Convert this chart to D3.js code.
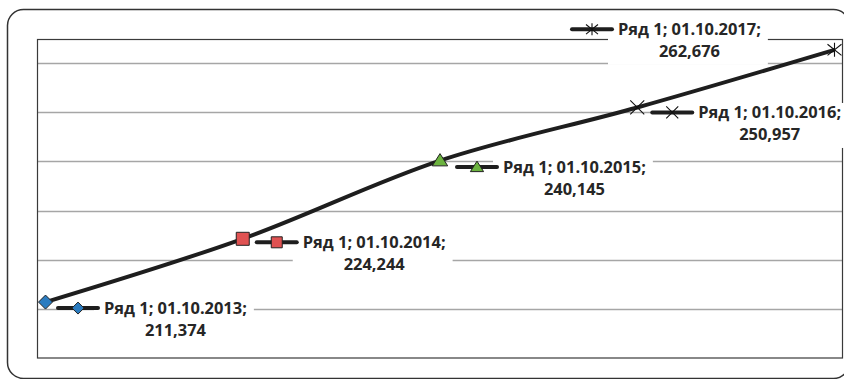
<!DOCTYPE html>
<html>
<head>
<meta charset="utf-8">
<script src="https://cdn.jsdelivr.net/npm/d3@7/dist/d3.min.js"></script>
<style>
  html, body { margin: 0; padding: 0; background: #fff; }
  svg { display: block; }
  .lbl { font-family: "Open Sans", Lato, sans-serif; font-weight: bold; fill: #262626; }
</style>
</head>
<body>
<svg id="chart" width="844" height="379"></svg>
<script>
// Series data
const seriesName = "Ряд 1";
const dates = ["01.10.2013", "01.10.2014", "01.10.2015", "01.10.2016", "01.10.2017"];
const values = [211.374, 224.244, 240.145, 250.957, 262.676];
const markerKinds = ["diamond", "square", "triangle", "x", "star"];
const markerFills = ["#2b7cc0", "#e05252", "#6cb33f", "none", "none"];
const gridValues = [210, 220, 230, 240, 250, 260];

// Layout
const W = 844, H = 379;
const plot = { left: 37.5, top: 39.5, right: 842.5, bottom: 358 };
const ink = "#1e1e1e";
const labelLineWidth = 143;   // width of the first label line

// Where each data label sits relative to its point: text start and first baseline
const labelPlacement = [
  { dx: 58.5, dy: 11.5 },
  { dx: 60, dy: 9 },
  { dx: 63, dy: 12 },
  { dx: 61, dy: 10.5 },
  { dx: -216.5, dy: -15 }
];

const svg = d3.select("#chart");

const x = d3.scalePoint().domain(dates).range([45.5, 834.5]);
const y = d3.scaleLinear().domain([200, 260]).range([plot.bottom, 63]);

// Pick a label font size that gives the wanted line width
const probe = svg.append("text").attr("class", "lbl").style("font-size", "15px")
  .text(`${seriesName}; ${dates[0]};`);
const fontSize = 15 * labelLineWidth / probe.node().getComputedTextLength();
probe.remove();

// Outer chart frame
svg.append("rect")
  .attr("x", 7.5).attr("y", 9.5)
  .attr("width", 842).attr("height", 369)
  .attr("rx", 16).attr("ry", 16)
  .attr("fill", "#fff").attr("stroke", "#333").attr("stroke-width", 1.5);

// Horizontal gridlines
svg.append("g").selectAll("line").data(gridValues).join("line")
  .attr("x1", plot.left).attr("x2", plot.right)
  .attr("y1", d => Math.round(y(d)) + 0.5).attr("y2", d => Math.round(y(d)) + 0.5)
  .attr("stroke", "#a6a6a6").attr("stroke-width", 1.5);

// Plot area border
svg.append("rect")
  .attr("x", plot.left).attr("y", plot.top)
  .attr("width", plot.right - plot.left).attr("height", plot.bottom - plot.top)
  .attr("fill", "none").attr("stroke", "#3a3a3a").attr("stroke-width", 1.2);

const pts = dates.map((d, i) => ({ date: d, value: values[i], kind: markerKinds[i], fill: markerFills[i], i }));

// Smoothed series line
const line = d3.line().x(d => x(d.date)).y(d => y(d.value)).curve(d3.curveCatmullRom.alpha(0.5));
svg.append("path").datum(pts)
  .attr("d", line)
  .attr("fill", "none").attr("stroke", ink).attr("stroke-width", 4)
  .attr("stroke-linejoin", "round");

function markerPath(kind, s) {
  switch (kind) {
    case "diamond": return `M0,${-s}L${s},0L0,${s}L${-s},0Z`;
    case "square": return `M${-s},${-s}H${s}V${s}H${-s}Z`;
    case "triangle": return `M0,${-s}L${s * 1.1},${s * 0.75}H${-s * 1.1}Z`;
    case "x": return `M${-s},${-s}L${s},${s}M${-s},${s}L${s},${-s}`;
    case "star": return `M${-s},${-s * 0.8}L${s},${s * 0.8}M${-s},${s * 0.8}L${s},${-s * 0.8}M0,${-s}V${s}`;
  }
}
function drawMarker(g, d, cx, cy, s) {
  const open = d.fill === "none";
  g.append("path")
    .attr("transform", `translate(${cx},${cy})`)
    .attr("d", markerPath(d.kind, s))
    .attr("fill", open ? "none" : d.fill)
    .attr("stroke", open ? "#111" : "#222")
    .attr("stroke-width", open ? 1.1 : 1);
}

// Data labels: white text box, legend key, two-line text
const labels = svg.append("g");
pts.forEach((d, k) => {
  const px = x(d.date), py = y(d.value);
  const p = labelPlacement[k];
  const tx = px + p.dx, ty = py + p.dy;
  const g = labels.append("g");
  const bg = g.append("rect").attr("fill", "#fff");
  const t1 = g.append("text").attr("class", "lbl").style("font-size", fontSize + "px")
    .attr("x", tx).attr("y", ty)
    .text(`${seriesName}; ${d.date};`);
  const w1 = t1.node().getComputedTextLength();
  g.append("text").attr("class", "lbl").style("font-size", fontSize + "px")
    .attr("x", tx + w1 / 2).attr("y", ty + 22.5)
    .attr("text-anchor", "middle")
    .text(d3.format(".3f")(d.value).replace(".", ","));
  bg.attr("x", tx - 10).attr("y", ty - 15)
    .attr("width", w1 + 17).attr("height", 45);
  // legend key
  const ky = ty - 5.5, kx0 = tx - 46, kx1 = tx - 6;
  g.append("line")
    .attr("x1", kx0).attr("x2", kx1).attr("y1", ky).attr("y2", ky)
    .attr("stroke", ink).attr("stroke-width", 4).attr("stroke-linecap", "round");
  drawMarker(g, d, (kx0 + kx1) / 2, ky, d.kind === "square" ? 5.5 : 6);
});

// Point markers on the line
const marks = svg.append("g");
pts.forEach(d => {
  drawMarker(marks, d, x(d.date), y(d.value), d.kind === "square" ? 6.5 : 7);
});
</script>
</body>
</html>
